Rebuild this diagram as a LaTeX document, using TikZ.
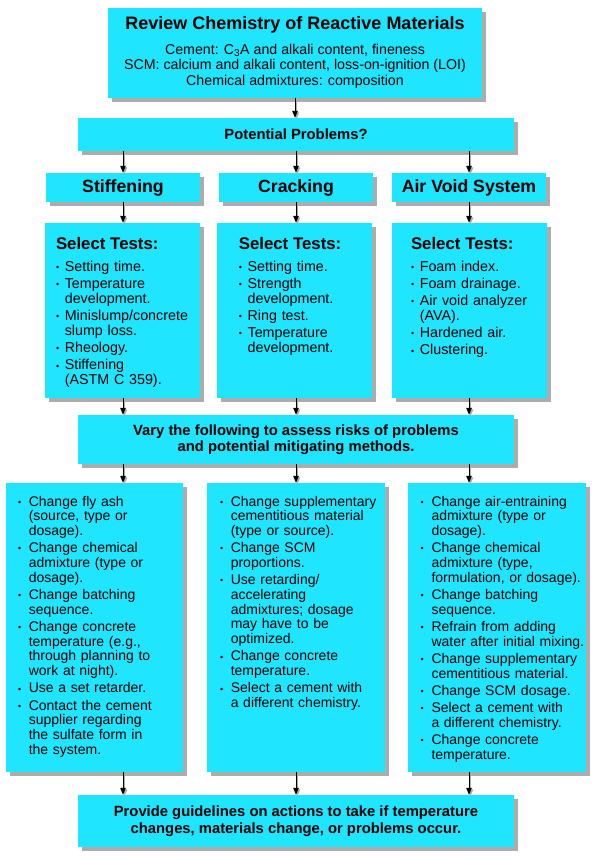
\documentclass[tikz,border=0pt]{standalone}
\usepackage{fontspec}
\setmainfont{Liberation Sans}
\usetikzlibrary{arrows.meta,shadows}
\definecolor{boxcyan}{RGB}{31,229,255}
\definecolor{shadowgray}{RGB}{172,172,172}
\newlength\bind
\newlength\igap
\newcommand\bul{\raisebox{0.8pt}{\fontsize{9}{9}\selectfont\textbullet}}
\newcommand\bitem[1]{\noindent\hangindent=\bind\hangafter=1\makebox[\bind][l]{\bul}#1\par\vspace{\igap}}
\tikzset{
  box/.style={rectangle, fill=boxcyan, draw=none, inner sep=0pt,
    drop shadow={shadow xshift=4pt, shadow yshift=-4pt, fill=shadowgray, opacity=1}},
  arr/.style={line width=1pt, -{Triangle[length=7pt,width=5.5pt]},
    preaction={draw=shadowgray, line width=1pt, -{Triangle[length=7pt,width=5.5pt]},
      transform canvas={shift={(1.5pt,-1.5pt)}}}},
  txt/.style={inner sep=0pt, outer sep=0pt},
  bodyfont/.style={font=\fontsize{14.2}{15.4}\selectfont},
  boldbody/.style={font=\bfseries\fontsize{14.8}{16}\selectfont},
  headfont/.style={font=\bfseries\fontsize{17.7}{18}\selectfont},
  testlist/.style={txt, anchor=base west, text width=200pt, align=left,
    font=\fontsize{14.3}{15}\selectfont\setlength\bind{8.8pt}\setlength\igap{2.2pt}},
  actlist/.style={txt, anchor=base west, text width=200pt, align=left,
    font=\fontsize{14}{14.7}\selectfont\setlength\bind{10.8pt}\setlength\igap{2.6pt}},
}
\begin{document}
\begin{tikzpicture}[x=1pt,y=-1pt]
\useasboundingbox (0,0) rectangle (615,856);
\fill[white] (0,0) rectangle (615,856);

% boxes
\node[box, minimum width=374pt, minimum height=90pt] (top) at (295,53) {};
\node[box, minimum width=436pt, minimum height=33pt] (pp) at (296,134.5) {};
\node[box, minimum width=154pt, minimum height=29pt] (hs) at (123,187.5) {};
\node[box, minimum width=154pt, minimum height=29pt] (hc) at (296,187.5) {};
\node[box, minimum width=154pt, minimum height=29pt] (ha) at (469,187.5) {};
\node[box, minimum width=155pt, minimum height=175pt] (ts) at (122.5,310.5) {};
\node[box, minimum width=155pt, minimum height=175pt] (tc) at (294,310.5) {};
\node[box, minimum width=155pt, minimum height=175pt] (ta) at (469.5,310.5) {};
\node[box, minimum width=436pt, minimum height=49pt] (vary) at (296,439.5) {};
\node[box, minimum width=177pt, minimum height=289pt] (bs) at (94.5,627.5) {};
\node[box, minimum width=178pt, minimum height=289pt] (bc) at (296,627.5) {};
\node[box, minimum width=178pt, minimum height=289pt] (ba) at (497,627.5) {};
\node[box, minimum width=436pt, minimum height=52pt] (final) at (296,821) {};

% connectors
\draw[arr] (top.south) -- (top.south |- pp.north);
\foreach \h in {hs,hc,ha}{
  \draw[arr] (\h |- pp.south) -- (\h.north);
}
\draw[arr] (hs.south) -- (hs |- ts.north);
\draw[arr] (hc.south) -- (hc |- tc.north);
\draw[arr] (ha.south) -- (ha |- ta.north);
\draw[arr] (hs |- ts.south) -- (hs |- vary.north);
\draw[arr] (hc |- tc.south) -- (hc |- vary.north);
\draw[arr] (ha |- ta.south) -- (ha |- vary.north);
\draw[arr] (hs |- vary.south) -- (hs |- bs.north);
\draw[arr] (hc |- vary.south) -- (hc |- bc.north);
\draw[arr] (ha |- vary.south) -- (ha |- ba.north);
\draw[arr] (hs |- bs.south) -- (hs |- final.north);
\draw[arr] (hc |- bc.south) -- (hc |- final.north);
\draw[arr] (ha |- ba.south) -- (ha |- final.north);

% texts
\node[txt, anchor=base, font=\bfseries\fontsize{18}{20}\selectfont] (toptitle) at (295,30) {Review Chemistry of Reactive Materials};
\node[txt, anchor=base, bodyfont] (topl1) at (295,54.3) {Cement: C\textsubscript{3}A and alkali content, fineness};
\node[txt, anchor=base, bodyfont] (topl2) at (295,69.8) {SCM: calcium and alkali content, loss-on-ignition (LOI)};
\node[txt, anchor=base, bodyfont] (topl3) at (295,85.3) {Chemical admixtures: composition};
\node[txt, boldbody] (pptext) at (pp.center) {Potential Problems?};
\node[txt, headfont] (hstext) at (hs.center) {Stiffening};
\node[txt, headfont] (hctext) at (hc.center) {Cracking};
\node[txt, headfont] (hatext) at (ha.center) {Air Void System};

\node[testlist] (tstext) at (56,249) {%
  {\bfseries\fontsize{16.8}{16.8}\selectfont Select Tests:}\par\vspace{7pt}%
  \bitem{Setting time.}%
  \bitem{Temperature\newline development.}%
  \bitem{Minislump/concrete\newline slump loss.}%
  \bitem{Rheology.}%
  \bitem{Stiffening\newline (ASTM C 359).}};
\node[testlist] (tctext) at (238.8,249) {%
  {\bfseries\fontsize{16.8}{16.8}\selectfont Select Tests:}\par\vspace{7pt}%
  \bitem{Setting time.}%
  \bitem{Strength\newline development.}%
  \bitem{Ring test.}%
  \bitem{Temperature\newline development.}};
\node[testlist] (tatext) at (411,249) {%
  {\bfseries\fontsize{16.8}{16.8}\selectfont Select Tests:}\par\vspace{7pt}%
  \bitem{Foam index.}%
  \bitem{Foam drainage.}%
  \bitem{Air void analyzer\newline (AVA).}%
  \bitem{Hardened air.}%
  \bitem{Clustering.}};

\node[txt, boldbody, align=center] (varytext) at (vary.center)
  {Vary the following to assess risks of problems\\and potential mitigating methods.};

\node[actlist] (bstext) at (18,506) {%
  \bitem{Change fly ash\newline (source, type or\newline dosage).}%
  \bitem{Change chemical\newline admixture (type or\newline dosage).}%
  \bitem{Change batching\newline sequence.}%
  \bitem{Change concrete\newline temperature (e.g.,\newline through planning to\newline work at night).}%
  \bitem{Use a set retarder.}%
  \bitem{Contact the cement\newline supplier regarding\newline the sulfate form in\newline the system.}};
\node[actlist] (bctext) at (220,506) {%
  \bitem{Change supplementary\newline cementitious material\newline (type or source).}%
  \bitem{Change SCM\newline proportions.}%
  \bitem{Use retarding/\newline accelerating\newline admixtures; dosage\newline may have to be\newline optimized.}%
  \bitem{Change concrete\newline temperature.}%
  \bitem{Select a cement with\newline a different chemistry.}};
\node[actlist] (batext) at (420.7,506) {%
  \bitem{Change air-entraining\newline admixture (type or\newline dosage).}%
  \bitem{Change chemical\newline admixture (type,\newline formulation, or dosage).}%
  \bitem{Change batching\newline sequence.}%
  \bitem{Refrain from adding\newline water after initial mixing.}%
  \bitem{Change supplementary\newline cementitious material.}%
  \bitem{Change SCM dosage.}%
  \bitem{Select a cement with\newline a different chemistry.}%
  \bitem{Change concrete\newline temperature.}};

\node[txt, font=\bfseries\fontsize{14.8}{16.7}\selectfont, align=center] (finaltext) at (final.center)
  {Provide guidelines on actions to take if temperature\\changes, materials change, or problems occur.};
\end{tikzpicture}
\end{document}
